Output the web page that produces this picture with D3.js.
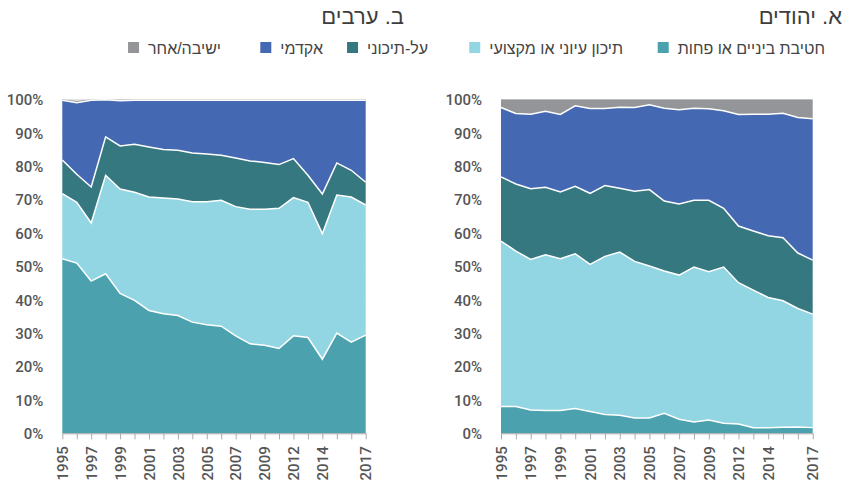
<!DOCTYPE html>
<html lang="he">
<head>
<meta charset="utf-8">
<script src="https://cdn.jsdelivr.net/npm/d3@7"></script>
<style>
  body { margin: 0; background: #fff; }
  svg { display: block; font-family: Roboto, "Liberation Sans", sans-serif; }
  .title { font-family: "Liberation Sans", Arial, sans-serif; font-size: 22px; fill: #3d3d3d; }
  .legend text { font-family: "Liberation Sans", Arial, sans-serif; font-size: 16px; fill: #444; }
  .tick text { font-family: Roboto, sans-serif; font-size: 15px; font-weight: 500; fill: #555; }
</style>
</head>
<body>
<svg id="chart" width="850" height="486"></svg>
<script>
// ── DATA ─────────────────────────────────────────────────────
const years = ["1995","1996","1997","1998","1999","2000","2001","2002","2003","2004","2005",
               "2006","2007","2008","2009","2011","2012","2013","2014","2015","2016","2017"];
const shownYears = ["1995","1997","1999","2001","2003","2005","2007","2009","2012","2014","2017"];

const categories = ["חטיבת ביניים או פחות", "תיכון עיוני או מקצועי", "על-תיכוני", "אקדמי", "ישיבה/אחר"];
const colors = ["#4ba1ad", "#93d6e3", "#367880", "#4468b1", "#939598"];

const yTicks = [0, 10, 20, 30, 40, 50, 60, 70, 80, 90, 100];

// א. יהודים
const jewsLower     = [8.0, 8.0, 7.0, 6.8, 6.8, 7.4, 6.5, 5.6, 5.4, 4.6, 4.6, 6.0, 4.2, 3.4, 4.0, 3.0, 2.8, 1.7, 1.7, 1.8, 1.9, 1.7];
const jewsHigh      = [49.6, 46.6, 45.1, 46.7, 45.5, 46.4, 44.1, 47.4, 48.9, 46.9, 45.5, 42.6, 43.2, 46.4, 44.4, 46.8, 42.3, 41.2, 39.0, 37.9, 35.5, 34.0];
const jewsPostSec   = [19.2, 20.1, 21.2, 20.2, 20.0, 20.2, 21.3, 21.2, 19.1, 21.0, 22.9, 21.0, 21.3, 20.0, 21.4, 17.6, 17.0, 17.7, 18.5, 18.9, 16.6, 16.2];
const jewsAcademic  = [20.8, 21.1, 22.3, 22.8, 23.2, 24.1, 25.4, 23.1, 24.3, 25.1, 25.4, 27.8, 28.2, 27.6, 27.4, 29.2, 33.4, 35.0, 36.4, 37.3, 40.6, 42.3];
const jewsOther     = [2.4, 4.2, 4.4, 3.5, 4.5, 1.9, 2.7, 2.7, 2.3, 2.4, 1.6, 2.6, 3.1, 2.6, 2.8, 3.4, 4.5, 4.4, 4.4, 4.1, 5.4, 5.8];

// ב. ערבים
const arabsLower    = [52.3, 51.0, 45.6, 47.8, 41.9, 39.8, 36.8, 35.8, 35.3, 33.3, 32.5, 32.1, 29.2, 26.8, 26.4, 25.4, 29.2, 28.7, 22.2, 30.0, 27.3, 29.4];
const arabsHigh     = [19.5, 18.2, 17.4, 29.5, 31.3, 32.4, 34.0, 34.7, 34.9, 36.1, 36.9, 37.7, 38.7, 40.3, 40.7, 42.0, 41.4, 40.5, 37.6, 41.4, 43.5, 39.0];
const arabsPostSec  = [10.1, 8.4, 10.8, 11.5, 12.9, 14.4, 15.0, 14.5, 14.6, 14.6, 14.3, 13.5, 14.6, 14.5, 14.0, 13.1, 11.7, 8.1, 11.9, 9.6, 8.0, 6.8];
const arabsAcademic = [17.9, 21.4, 26.0, 11.1, 13.5, 13.2, 14.0, 14.8, 15.0, 15.8, 16.1, 16.5, 17.3, 18.2, 18.7, 19.3, 17.5, 22.5, 28.1, 18.8, 21.0, 24.6];
const arabsOther    = [0.2, 0.6, 0.2, 0.1, 0.3, 0.2, 0.2, 0.2, 0.2, 0.2, 0.2, 0.2, 0.2, 0.2, 0.2, 0.2, 0.2, 0.2, 0.2, 0.2, 0.2, 0.2];

// ── SETUP ────────────────────────────────────────────────────
const svg = d3.select("#chart");
const plotTop = 99.5, plotBottom = 433.3;

const buildRows = (series) => years.map((year, i) => {
  const row = { year };
  categories.forEach((c, k) => row[c] = series[k][i]);
  return row;
});

const stack = d3.stack().keys(categories);

const drawPanel = (series, left, right, title, titleX) => {
  const rows = buildRows(series);
  const layers = stack(rows);

  const xScale = d3.scalePoint().domain(years).range([left, right]);
  const yScale = d3.scaleLinear().domain([0, 100]).range([plotBottom, plotTop]);

  const g = svg.append("g");

  // light grid behind the areas
  g.append("g")
    .selectAll("line")
    .data(yTicks)
    .join("line")
      .attr("x1", left)
      .attr("x2", right)
      .attr("y1", d => yScale(d))
      .attr("y2", d => yScale(d))
      .attr("stroke", "#e3e3e3");

  const area = d3.area()
    .x(d => xScale(d.data.year))
    .y0(d => yScale(d[0]))
    .y1(d => yScale(d[1]));

  const line = d3.line()
    .x(d => xScale(d.data.year))
    .y(d => yScale(d[1]));

  g.selectAll(".layer")
    .data(layers)
    .join("path")
      .attr("class", "layer")
      .attr("d", area)
      .attr("fill", (d, i) => colors[i]);

  // white separators between layers
  g.selectAll(".sep")
    .data(layers.slice(0, 4))
    .join("path")
      .attr("class", "sep")
      .attr("d", line)
      .attr("fill", "none")
      .attr("stroke", "#fff")
      .attr("stroke-width", 1.5);

  // y axis (labels only)
  const yAxis = g.append("g")
    .attr("transform", `translate(${left - 19}, 0)`)
    .call(d3.axisLeft(yScale).tickValues(yTicks).tickSize(0).tickFormat(d => d + "%"));
  yAxis.select(".domain").remove();
  yAxis.selectAll("text").attr("x", 0).attr("dy", "0.35em");

  // x axis
  const xAxis = g.append("g")
    .attr("transform", `translate(0, ${plotBottom})`)
    .call(d3.axisBottom(xScale).tickSize(6).tickSizeOuter(0)
      .tickFormat(d => shownYears.includes(d) ? d : ""));
  xAxis.select(".domain").attr("stroke", "#aaa");
  xAxis.selectAll(".tick line").attr("stroke", "#aaa");
  xAxis.selectAll("text")
    .attr("transform", "rotate(-90)")
    .attr("text-anchor", "end")
    .attr("x", -13)
    .attr("y", 0)
    .attr("dy", "0.35em");

  // title: in rtl "start" is the right edge
  svg.append("text")
    .attr("class", "title")
    .attr("x", titleX)
    .attr("y", 24)
    .attr("text-anchor", "start")
    .attr("direction", "rtl")
    .text(title);
};

drawPanel([arabsLower, arabsHigh, arabsPostSec, arabsAcademic, arabsOther], 62.3, 365.7, "ב. ערבים", 404);
drawPanel([jewsLower, jewsHigh, jewsPostSec, jewsAcademic, jewsOther], 501, 812.7, "א. יהודים", 842);

// ── LEGEND (right to left) ───────────────────────────────────
const legendRight = [825, 623, 428, 323, 221];

const legend = svg.append("g").attr("class", "legend");
const items = legend.selectAll("g")
  .data(categories)
  .join("g")
    .attr("transform", (d, i) => `translate(${legendRight[i]}, 48)`);

items.append("text")
  .attr("text-anchor", "start")
  .attr("direction", "rtl")
  .attr("dy", "0.35em")
  .text(d => d);

items.each(function (d, i) {
  const w = this.querySelector("text").getComputedTextLength();
  d3.select(this).append("rect")
    .attr("x", -w - 20)
    .attr("y", -6)
    .attr("width", 11)
    .attr("height", 11)
    .attr("fill", colors[i]);
});
</script>
</body>
</html>
